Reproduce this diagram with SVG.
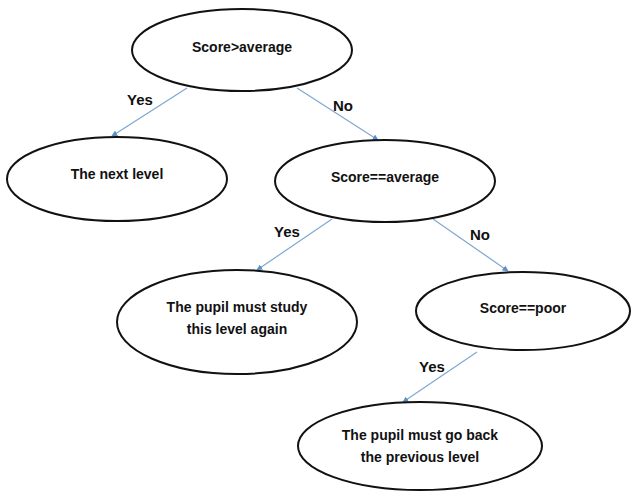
<svg xmlns="http://www.w3.org/2000/svg" width="632" height="491" viewBox="0 0 632 491">
<style>
.node ellipse{fill:#fff;stroke:#111;stroke-width:2}
text{font-family:"Liberation Sans",Arial,sans-serif;font-weight:bold;font-size:14px;fill:#111;text-anchor:middle}
.lbl text{font-size:15px}
.edge line{stroke:#7fa8d0;stroke-width:1.2;marker-end:url(#ah)}
</style>
<defs>
<marker id="ah" viewBox="0 0 10 10" refX="9" refY="5" markerWidth="6" markerHeight="6" orient="auto" markerUnits="userSpaceOnUse">
<path d="M0,0 L10,5 L0,10 z" fill="#5b8fc7"/>
</marker>
</defs>
<rect width="632" height="491" fill="#fff"/>
<g id="edges" class="edge">
<line x1="187" y1="88" x2="112" y2="136"/>
<line x1="297" y1="88" x2="378" y2="140"/>
<line x1="332" y1="219" x2="257" y2="270"/>
<line x1="433" y1="219" x2="508" y2="271"/>
<line x1="477" y1="352" x2="403" y2="402"/>
</g>
<g id="edge-labels" class="lbl">
<text x="140" y="105">Yes</text>
<text x="343" y="111">No</text>
<text x="287" y="237">Yes</text>
<text x="480" y="240">No</text>
<text x="432" y="372">Yes</text>
</g>
<g id="n1" class="node"><ellipse cx="242" cy="50" rx="110" ry="41"/><text x="242" y="52">Score&gt;average</text></g>
<g id="n2" class="node"><ellipse cx="117" cy="179" rx="110" ry="42"/><text x="117" y="179">The next level</text></g>
<g id="n3" class="node"><ellipse cx="385" cy="181" rx="110" ry="41"/><text x="385" y="182">Score==average</text></g>
<g id="n4" class="node"><ellipse cx="237" cy="322" rx="120" ry="52"/><text x="237" y="312">The pupil must study</text><text x="237" y="334">this level again</text></g>
<g id="n5" class="node"><ellipse cx="523" cy="311" rx="107" ry="39"/><text x="523" y="313">Score==poor</text></g>
<g id="n6" class="node"><ellipse cx="420" cy="446" rx="122" ry="44"/><text x="420" y="440">The pupil must go back</text><text x="420" y="462">the previous level</text></g>
</svg>
